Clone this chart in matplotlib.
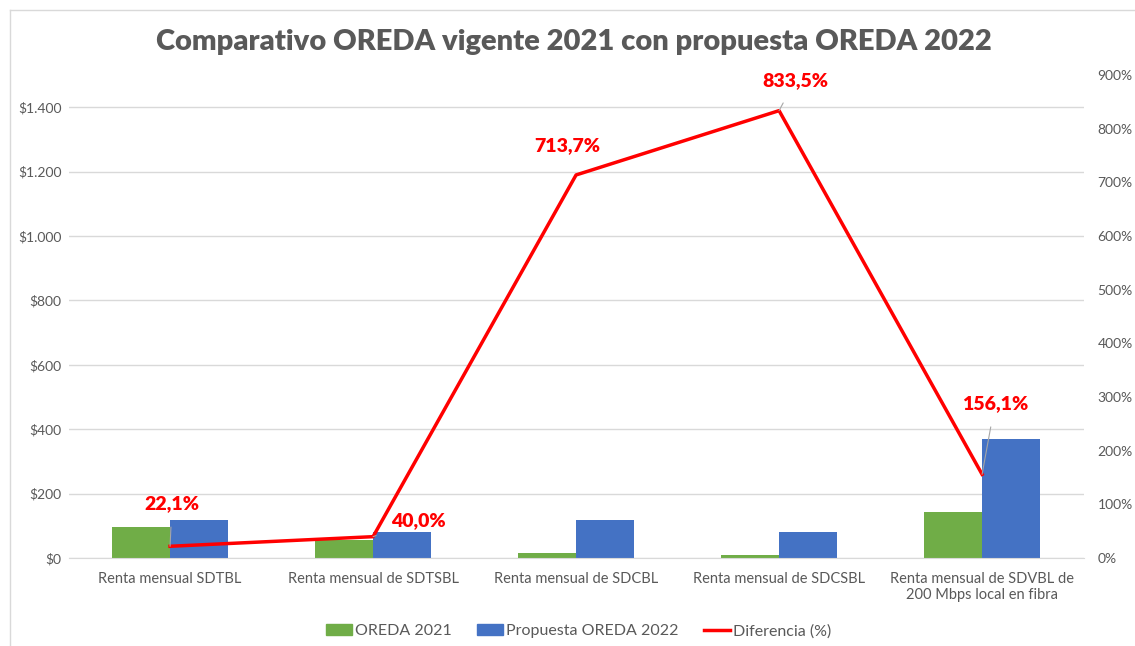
import matplotlib.pyplot as plt
from matplotlib.ticker import FuncFormatter
from matplotlib.patches import Rectangle
from matplotlib.lines import Line2D
import numpy as np

categories = [
    "Renta mensual SDTBL",
    "Renta mensual de SDTSBL",
    "Renta mensual de SDCBL",
    "Renta mensual de SDCSBL",
    "Renta mensual de SDVBL de\n200 Mbps local en fibra",
]
oreda_2021 = [96.6, 57.1, 14.5, 8.7, 144.0]
propuesta_2022 = [118.0, 80.0, 118.0, 81.2, 368.8]
diferencia = [22.1, 40.0, 713.7, 833.5, 156.1]
pct_labels = ["22,1%", "40,0%", "713,7%", "833,5%", "156,1%"]
# where each percent label sits relative to its point (pixels)
label_offsets = [(2, 43), (45, 16), (-9, 29), (16, 30), (13, 71)]
leader = [True, True, False, True, True]

plt.rcParams['font.family'] = ['Lato', 'DejaVu Sans']
grey = '#595959'

fig = plt.figure(figsize=(11.35, 6.46), dpi=100)
ax = fig.add_axes([0.0604, 0.136, 0.8943, 0.748])
ax2 = ax.twinx()

x = np.arange(len(categories))
w = 0.286
ax.bar(x - w / 2, oreda_2021, w, color='#70AD47', zorder=2)
ax.bar(x + w / 2, propuesta_2022, w, color='#4472C4', zorder=2)

ax.set_xlim(-0.5, len(categories) - 0.5)
ax.set_ylim(0, 1500)
ax.set_yticks(range(0, 1401, 200))
ax.yaxis.set_major_formatter(FuncFormatter(lambda v, p: "$" + f"{int(v):,}".replace(",", ".")))
ax.grid(axis='y', color='#D9D9D9', linewidth=1, zorder=0)
ax.set_xticks(x)
ax.set_xticklabels(categories, fontsize=10.5, color=grey)
for s in ax.spines.values():
    s.set_visible(False)
ax.spines['bottom'].set_visible(True)
ax.spines['bottom'].set_color('#D9D9D9')
ax.tick_params(axis='both', length=0, colors=grey, labelsize=10)
ax.tick_params(axis='x', pad=10, labelsize=10.5)
ax.tick_params(axis='y', pad=5)

ax2.plot(x, diferencia, color='#FF0000', linewidth=2.5, zorder=3)
ax2.set_ylim(0, 900)
ax2.set_yticks(range(0, 901, 100))
ax2.yaxis.set_major_formatter(FuncFormatter(lambda v, p: f"{int(v)}%"))
ax2.tick_params(axis='y', length=0, colors=grey, labelsize=10, pad=10)
for s in ax2.spines.values():
    s.set_visible(False)

for xi, yi, lab, off, ld in zip(x, diferencia, pct_labels, label_offsets, leader):
    ax2.annotate(lab, (xi, yi), xytext=off, textcoords='offset pixels',
                 ha='center', va='center', color='#FF0000', fontsize=14,
                 fontweight='heavy',
                 arrowprops=dict(arrowstyle='-', color='#A6A6A6', lw=0.8,
                                 shrinkA=9, shrinkB=0) if ld else None)

fig.text(0.506, 0.935, "Comparativo OREDA vigente 2021 con propuesta OREDA 2022",
         ha='center', va='center', fontsize=21, fontweight='heavy', color=grey)

handles = [
    Rectangle((0, 0), 1, 1, color='#70AD47'),
    Rectangle((0, 0), 1, 1, color='#4472C4'),
    Line2D([0], [0], color='#FF0000', linewidth=2.5),
]
fig.legend(handles, ["OREDA 2021", "Propuesta OREDA 2022", "Diferencia (%)"],
           loc='center', bbox_to_anchor=(0.51, 0.023), ncol=3, frameon=False,
           fontsize=11.5, handlelength=1.6, handletextpad=0.2, columnspacing=1.6,
           labelcolor=grey)

# outer chart frame
fig.add_artist(Line2D([0.009, 1.0], [0.984, 0.984], color='#D9D9D9', lw=1,
                      transform=fig.transFigure))
fig.add_artist(Line2D([0.009, 0.009], [0.0, 0.984], color='#D9D9D9', lw=1,
                      transform=fig.transFigure))

fig.savefig("out.png", dpi=100)
